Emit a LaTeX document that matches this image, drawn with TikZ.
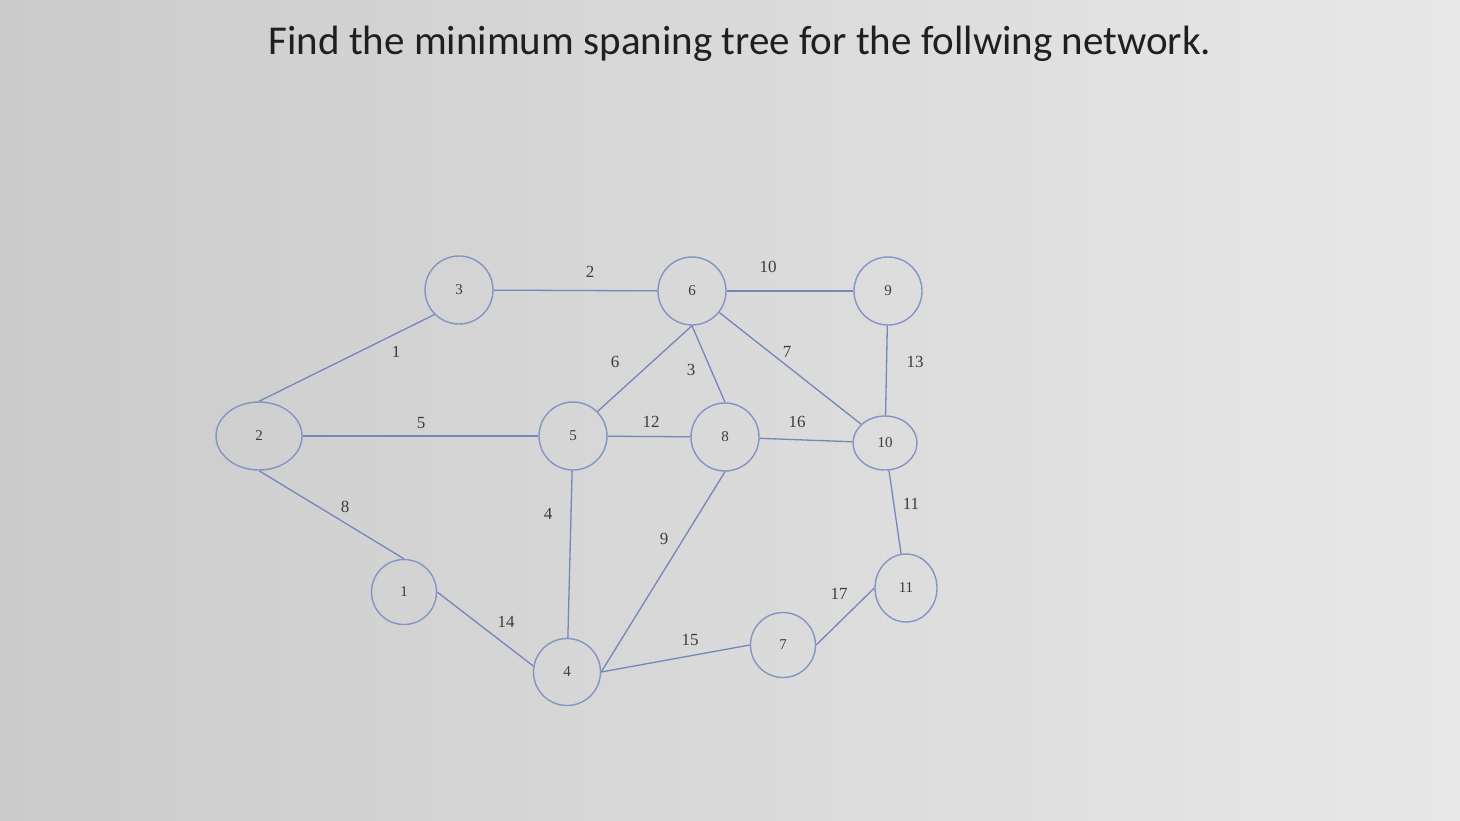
\documentclass[tikz,border=0pt]{standalone}
\usepackage{fontspec}
\setmainfont{Liberation Serif}
\newfontfamily\titlefont{Carlito}
\usetikzlibrary{shapes.geometric}
\definecolor{edgeblue}{HTML}{7486BC}
\definecolor{nodeblue}{HTML}{8494C4}
\definecolor{labgray}{HTML}{3C3C3C}
\definecolor{bgleft}{HTML}{CBCBCB}
\definecolor{bgright}{HTML}{E8E8E8}
\tikzset{
  vtx/.style={circle, draw=nodeblue, line width=1.4pt, minimum size=68pt, inner sep=0pt,
    font=\fontsize{15}{15}\selectfont, text=labgray},
  ovtx/.style={ellipse, draw=nodeblue, line width=1.4pt, inner sep=0pt,
    font=\fontsize{15}{15}\selectfont, text=labgray},
  link/.style={draw=edgeblue, line width=1.3pt},
  wt/.style={font=\fontsize{17}{17}\selectfont, text=labgray, inner sep=1pt}
}
\begin{document}
\begin{tikzpicture}[x=1pt,y=-1pt]
\useasboundingbox (0,0) rectangle (1460,820);
\shade[left color=bgleft, right color=bgright] (0,0) rectangle (1460,820);
\node[font=\titlefont\fontsize{41}{41}\selectfont, text=black!88] (title) at (740,44) {Find the minimum spaning tree for the follwing network.};

\node[vtx] (n3) at (459,290) {3};
\node[vtx] (n6) at (692,291) {6};
\node[vtx] (n9) at (888,291) {9};
\node[ovtx, minimum width=86pt, minimum height=68pt] (n2) at (259,436) {2};
\node[vtx] (n5) at (573,436) {5};
\node[vtx] (n8) at (725,437) {8};
\node[ovtx, minimum width=64pt, minimum height=54pt] (n10) at (885,443) {10};
\node[vtx, minimum size=65pt] (n1) at (404,592) {1};
\node[vtx, minimum size=67pt] (n4) at (567,672) {4};
\node[vtx, minimum size=65pt] (n7) at (783,645) {7};
\node[ovtx, minimum width=62pt, minimum height=68pt] (n11) at (906,588) {11};

\draw[link] (n3) -- (n6);
\draw[link] (n2.north) -- (n3.south west);
\draw[link] (n2) -- (n5);
\draw[link] (n2.south) -- (n1.north);
\draw[link] (n1.east) -- (n4.170);
\draw[link] (n5) -- (n4);
\draw[link] (n5.north east) -- (n6.south);
\draw[link] (n5) -- (n8);
\draw[link] (n6.south) -- (n8.north);
\draw[link] (n6) -- (n9);
\draw[link] (n6) -- (n10);
\draw[link] (n9) -- (n10);
\draw[link] (n8) -- (n10);
\draw[link] (n10) -- (n11);
\draw[link] (n4.east) -- (n8.south);
\draw[link] (n4.east) -- (n7.west);
\draw[link] (n7.east) -- (n11.west);

\node[wt] (w2) at (590,272) {2};
\node[wt] (w1) at (396,352) {1};
\node[wt] (w5) at (421,423) {5};
\node[wt] (w8) at (345,507) {8};
\node[wt] (w14) at (506,622) {14};
\node[wt] (w4) at (548,514) {4};
\node[wt] (w6) at (615,362) {6};
\node[wt] (w12) at (651,422) {12};
\node[wt] (w3) at (691,370) {3};
\node[wt] (w10) at (768,267) {10};
\node[wt] (w7) at (787,352) {7};
\node[wt] (w13) at (915,362) {13};
\node[wt] (w16) at (797,422) {16};
\node[wt] (w11) at (911,504) {11};
\node[wt] (w9) at (664,539) {9};
\node[wt] (w15) at (690,640) {15};
\node[wt] (w17) at (839,594) {17};
\end{tikzpicture}
\end{document}
